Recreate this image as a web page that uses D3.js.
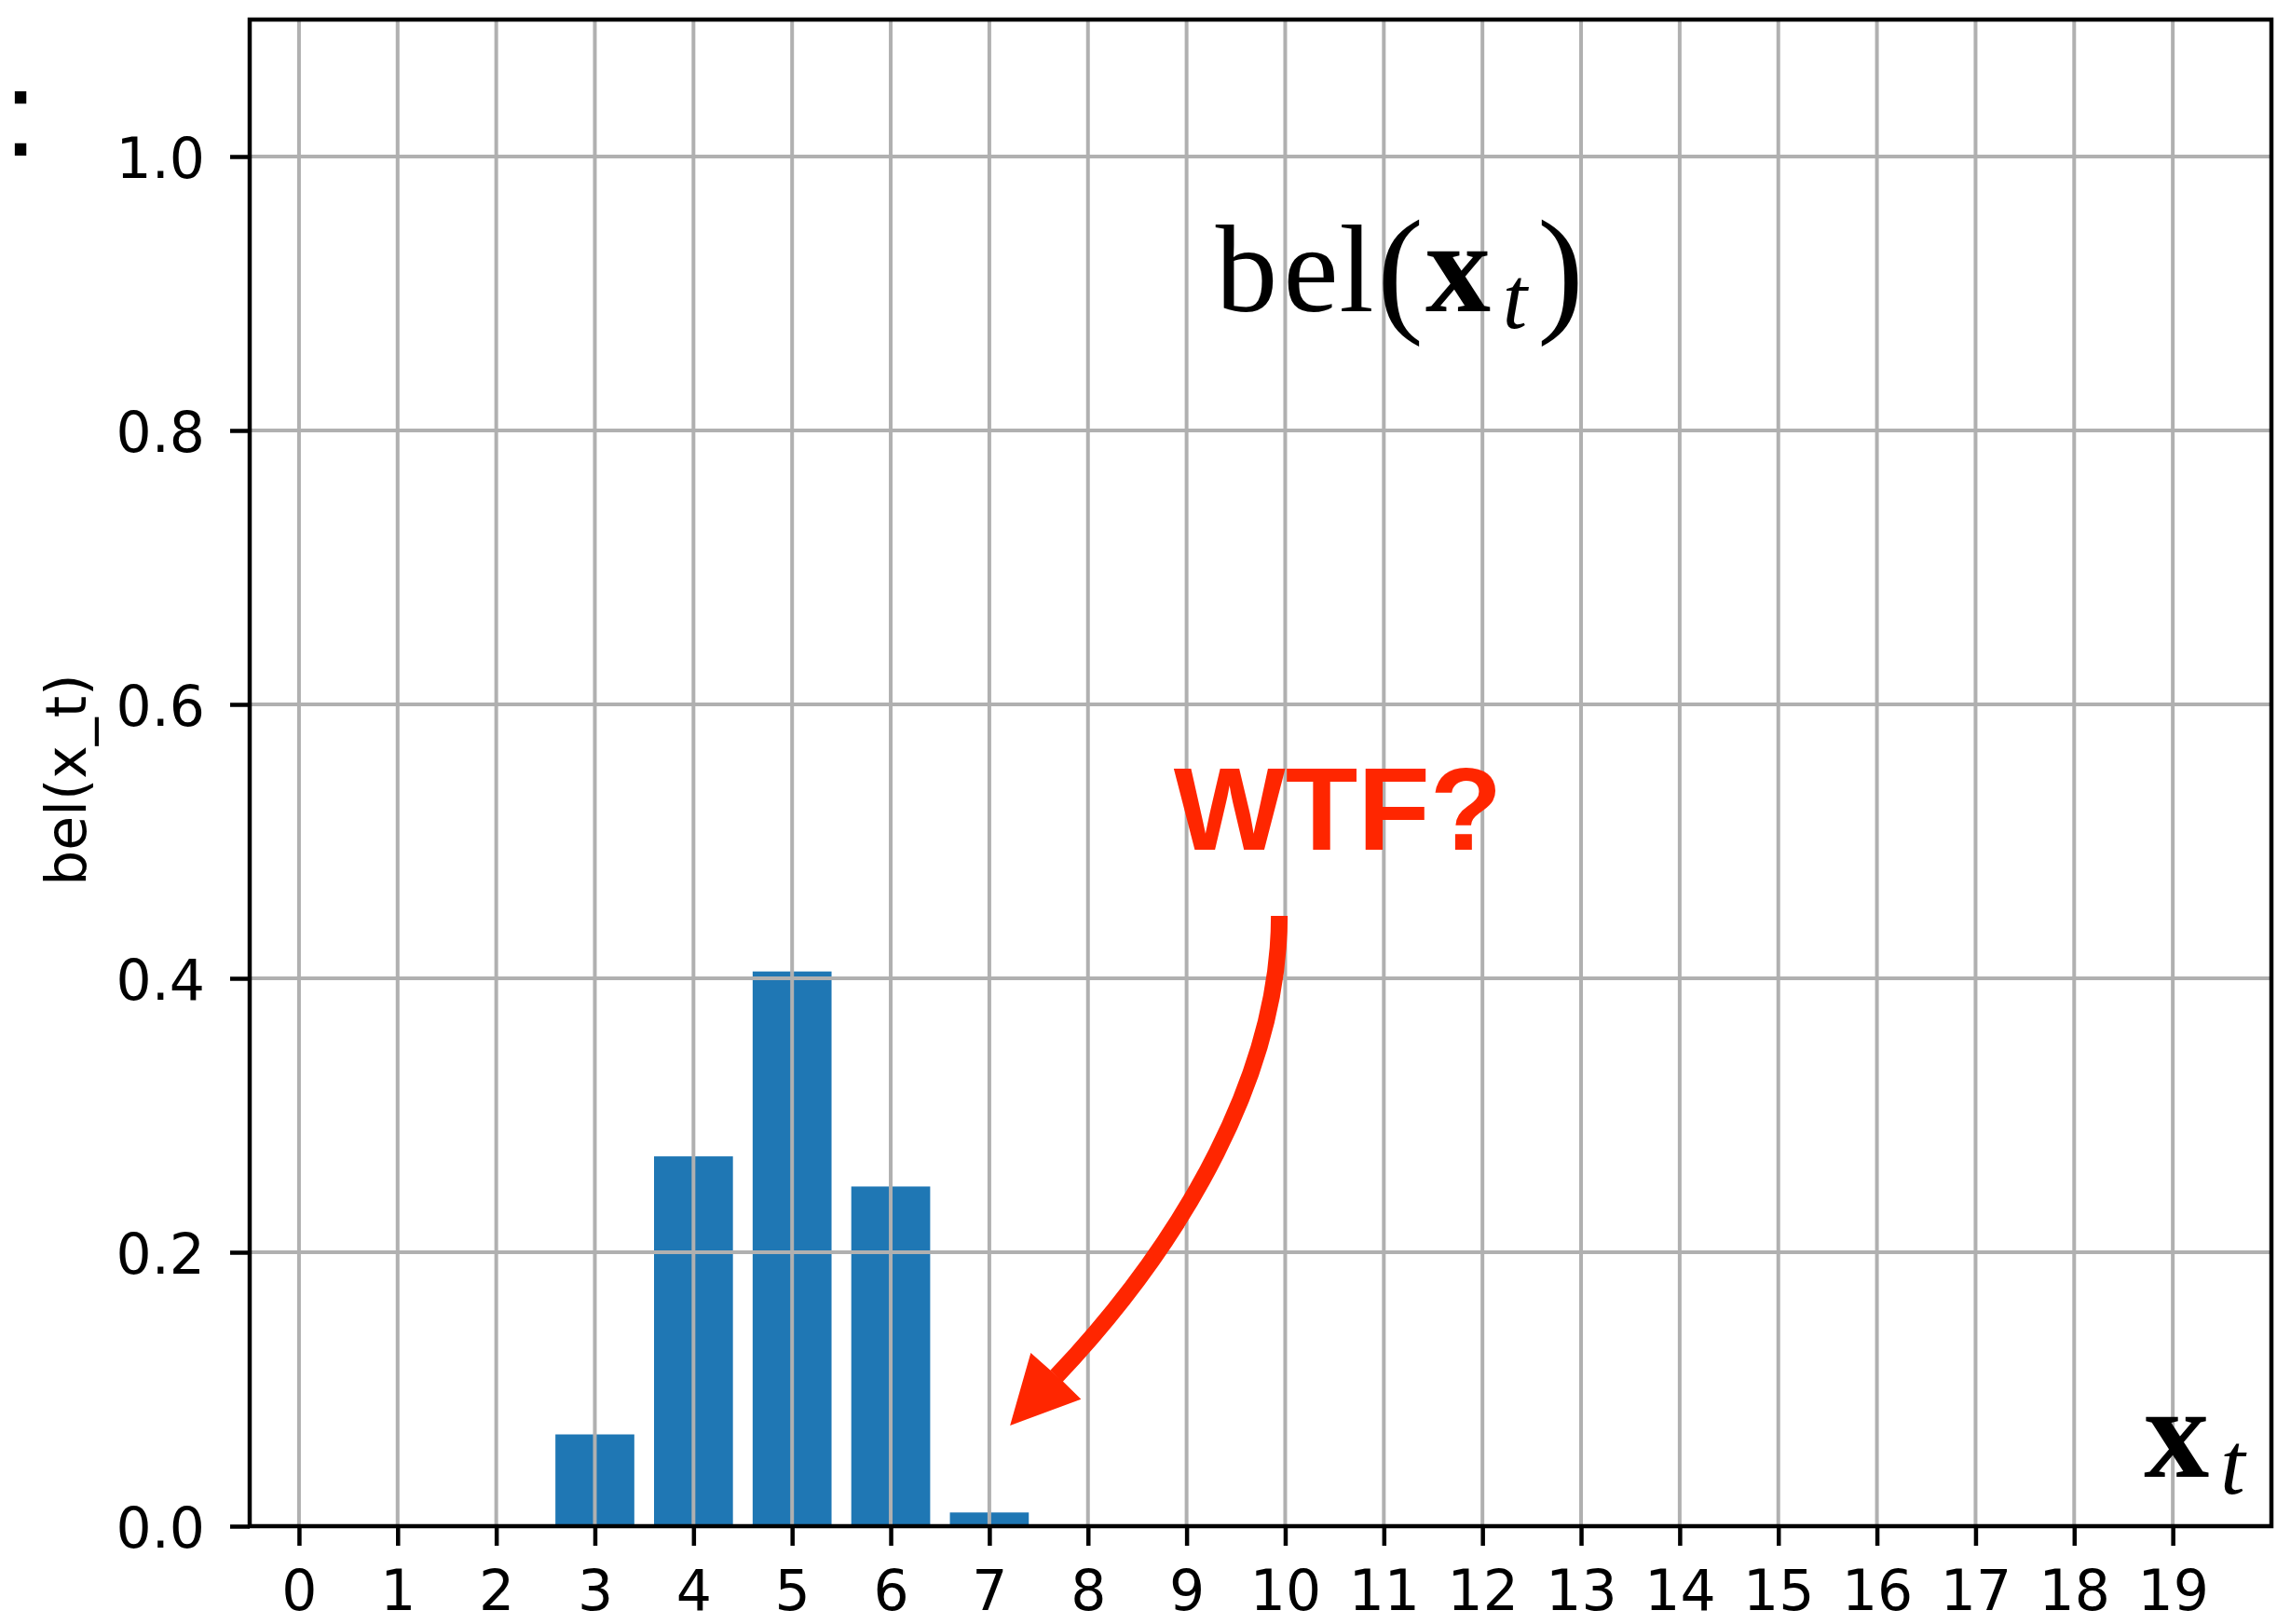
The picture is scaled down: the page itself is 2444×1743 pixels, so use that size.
<!DOCTYPE html>
<html>
<head>
<meta charset="utf-8">
<script src="https://cdn.jsdelivr.net/npm/d3@7"></script>
<style>
  html, body { margin: 0; padding: 0; background: #ffffff; }
  svg { display: block; }
</style>
</head>
<body>
<svg id="chart" width="2444" height="1743"></svg>
<script>
// ---------------- data ----------------
const categories = [0, 1, 2, 3, 4, 5, 6, 7, 8, 9, 10, 11, 12, 13, 14, 15, 16, 17, 18, 19];
const beliefValues = [0, 0, 0, 0.067, 0.27, 0.405, 0.248, 0.01, 0, 0, 0, 0, 0, 0, 0, 0, 0, 0, 0, 0];
const yTicks = [0.0, 0.2, 0.4, 0.6, 0.8, 1.0];
const yTickLabels = ["0.0", "0.2", "0.4", "0.6", "0.8", "1.0"];
const xTickLabels = ["0","1","2","3","4","5","6","7","8","9","10","11","12","13","14","15","16","17","18","19"];
const yAxisLabel = "bel(x_t)";
const annotationText = "WTF?";
// annotation arrow (data coordinates): cubic curve + arrow head
const arrowCurve = [[9.94, 0.4456], [9.94, 0.332], [9.00, 0.210], [7.68, 0.1095]];
const arrowHead = [[7.21, 0.0735], [7.42, 0.1265], [7.62, 0.1137], [7.75, 0.1054], [7.93, 0.0927]];
const annotationPos = [8.87, 0.494];
const titlePos = [9.297, 0.887];
const xLabelPos = [18.69, 0.0358];

// ---------------- layout ----------------
const plot = { left: 268, right: 2438, top: 21, bottom: 1638 };
const svg = d3.select("#chart");

const x = d3.scaleLinear().domain([-0.5, 20]).range([plot.left, plot.right]);
const y = d3.scaleLinear().domain([0, 1.1]).range([plot.bottom, plot.top]);

const barColor = "#1f77b4";
const gridColor = "#b0b0b0";
const red = "#ff2600";
const tickFont = "DejaVu Sans, sans-serif";
const serif = "Liberation Serif, Times New Roman, serif";

// bars
const barW = 0.8;
svg.append("g").selectAll("rect")
  .data(categories.map((c, i) => ({ c, v: beliefValues[i] })))
  .join("rect")
  .attr("x", d => x(d.c - barW / 2))
  .attr("width", d => x(d.c + barW / 2) - x(d.c - barW / 2))
  .attr("y", d => y(d.v))
  .attr("height", d => y(0) - y(d.v))
  .attr("fill", barColor);

// grid (drawn above bars, like matplotlib default axisbelow='line')
const grid = svg.append("g");
grid.selectAll("line.vx").data(categories).join("line")
  .attr("x1", d => x(d)).attr("x2", d => x(d))
  .attr("y1", plot.top).attr("y2", plot.bottom)
  .attr("stroke", gridColor).attr("stroke-width", 4);
grid.selectAll("line.hy").data(yTicks).join("line")
  .attr("x1", plot.left).attr("x2", plot.right)
  .attr("y1", d => y(d)).attr("y2", d => y(d))
  .attr("stroke", gridColor).attr("stroke-width", 4);

// axes with d3
const xAxis = d3.axisBottom(x).tickValues(categories)
  .tickFormat((d, i) => xTickLabels[i]).tickSize(21).tickPadding(7).tickSizeOuter(0);
const yAxis = d3.axisLeft(y).tickValues(yTicks)
  .tickFormat((d, i) => yTickLabels[i]).tickSize(21).tickPadding(6).tickSizeOuter(0);

const gx = svg.append("g").attr("transform", `translate(0,${plot.bottom})`).call(xAxis);
const gy = svg.append("g").attr("transform", `translate(${plot.left},0)`).call(yAxis);
[gx, gy].forEach(g => {
  g.select(".domain").remove();
  g.selectAll(".tick line").attr("stroke", "#000").attr("stroke-width", 4.5);
  g.selectAll(".tick text").attr("fill", "#000")
    .style("font-family", tickFont).style("font-size", "60px");
});
gx.selectAll(".tick text").attr("dy", null).attr("y", 90);
gy.selectAll(".tick text").attr("dy", null).attr("y", 22).attr("x", -48);

// spines (frame)
svg.append("rect")
  .attr("x", plot.left).attr("y", plot.top)
  .attr("width", plot.right - plot.left).attr("height", plot.bottom - plot.top)
  .attr("fill", "none").attr("stroke", "#000").attr("stroke-width", 4.5);

// y axis label
svg.append("text")
  .attr("transform", `translate(92,837) rotate(-90)`)
  .attr("text-anchor", "middle")
  .style("font-family", tickFont).style("font-size", "60px")
  .attr("fill", "#000")
  .text(yAxisLabel);

// math labels: each glyph placed at its own offset
function mathLabel(parts, baseX, baseY) {
  const t = svg.append("text").attr("fill", "#000").style("font-family", serif);
  parts.forEach(p => {
    t.append("tspan")
      .attr("x", baseX + p.dx)
      .attr("y", baseY + (p.dy || 0))
      .attr("text-anchor", "middle")
      .style("font-size", p.size + "px")
      .style("font-weight", p.bold ? "bold" : "normal")
      .style("font-style", p.italic ? "italic" : "normal")
      .text(p.s);
  });
}
mathLabel([
  { s: "b", dx: 33, size: 133 },
  { s: "e", dx: 102, size: 133 },
  { s: "l", dx: 151, size: 133 },
  { s: "(", dx: 198, size: 150, dy: 6 },
  { s: "x", dx: 260, size: 140, bold: true },
  { s: "t", dx: 321, size: 95, italic: true, dy: 18 },
  { s: ")", dx: 370, size: 150, dy: 6 }
], x(titlePos[0]), y(titlePos[1]));

mathLabel([
  { s: "x", dx: 37, size: 140, bold: true },
  { s: "t", dx: 97, size: 95, italic: true, dy: 18 }
], x(xLabelPos[0]), y(xLabelPos[1]));

// annotation text
svg.append("text")
  .attr("x", x(annotationPos[0])).attr("y", y(annotationPos[1]))
  .attr("fill", red)
  .style("font-family", "Liberation Sans, Arial, Helvetica, sans-serif")
  .style("font-weight", "bold").style("font-size", "127px")
  .text(annotationText);

// annotation arrow
const p = arrowCurve.map(([a, b]) => [x(a), y(b)]);
const path = d3.path();
path.moveTo(p[0][0], p[0][1]);
path.bezierCurveTo(p[1][0], p[1][1], p[2][0], p[2][1], p[3][0], p[3][1]);
svg.append("path").attr("d", path.toString())
  .attr("fill", "none").attr("stroke", red).attr("stroke-width", 18);
svg.append("polygon")
  .attr("points", arrowHead.map(([a, b]) => `${x(a)},${y(b)}`).join(" "))
  .attr("fill", red);

// clipped colon fragment at top-left
svg.append("text")
  .attr("x", 4).attr("y", 167)
  .attr("fill", "#000")
  .style("font-family", "Liberation Sans, Arial, sans-serif").style("font-size", "130px")
  .text(":");
</script>
</body>
</html>
